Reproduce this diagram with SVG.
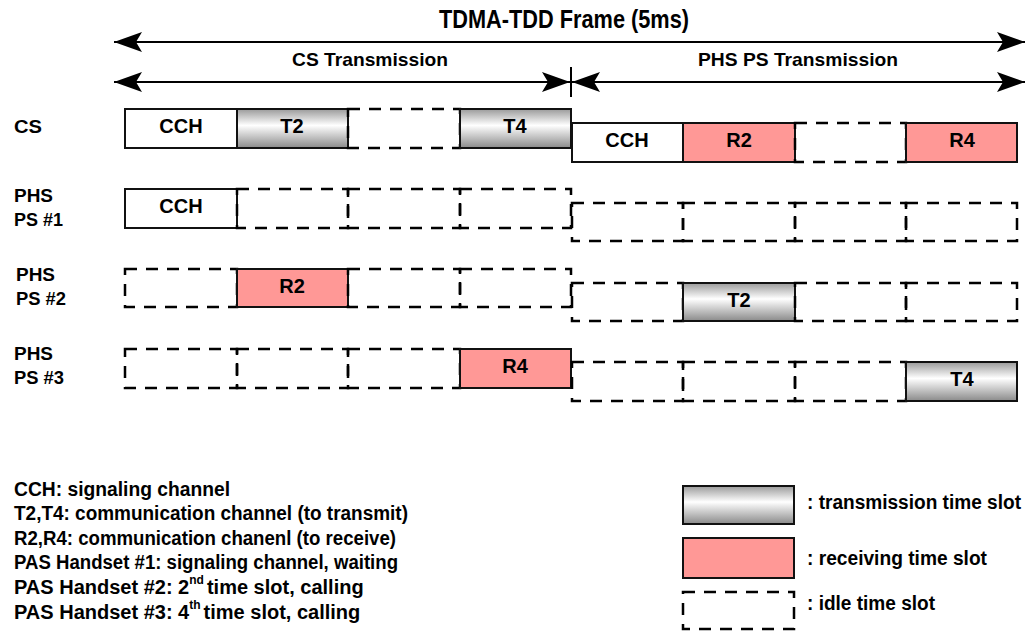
<svg xmlns="http://www.w3.org/2000/svg" width="1031" height="638" viewBox="0 0 1031 638">
<defs>
<linearGradient id="gray" x1="0" y1="0" x2="0" y2="1">
<stop offset="0" stop-color="#9a9a9a"/>
<stop offset="0.42" stop-color="#ffffff"/>
<stop offset="1" stop-color="#8a8a8a"/>
</linearGradient>
<marker id="ah" viewBox="0 0 28 20" refX="28" refY="10" markerWidth="28" markerHeight="20" markerUnits="userSpaceOnUse" orient="auto-start-reverse">
<path d="M0,0 L28,10 L0,20 L6,10 Z" fill="#000"/>
</marker>
<style>
text{font-family:"Liberation Sans",Arial,sans-serif;font-weight:bold;fill:#000}
.lbl{font-size:19px}
.bx{font-size:20px;text-anchor:middle}
.leg{font-size:20px}
.sup{font-size:12px}
.tx{fill:url(#gray);stroke:#111;stroke-width:2}
.rx{fill:#ff9896;stroke:#111;stroke-width:2}
.wh{fill:#fff;stroke:#111;stroke-width:2}
.id{fill:none;stroke:#000;stroke-width:2.5;stroke-dasharray:12 9}
.ln{stroke:#000;stroke-width:2;fill:none}
</style>
</defs>
<rect width="1031" height="638" fill="#fff"/>

<g id="title">
<text x="564" y="28" font-size="26" text-anchor="middle" textLength="250" lengthAdjust="spacingAndGlyphs">TDMA-TDD Frame (5ms)</text>
<text x="370" y="66" font-size="19" text-anchor="middle" textLength="156" lengthAdjust="spacingAndGlyphs">CS Transmission</text>
<text x="798" y="66" font-size="19" text-anchor="middle" textLength="200" lengthAdjust="spacingAndGlyphs">PHS PS Transmission</text>
</g>

<g id="connectors">
<line class="ln" x1="114" y1="42" x2="1025" y2="42" marker-start="url(#ah)" marker-end="url(#ah)"/>
<line class="ln" x1="114" y1="82" x2="570" y2="82" marker-start="url(#ah)" marker-end="url(#ah)"/>
<line class="ln" x1="572" y1="82" x2="1025" y2="82" marker-start="url(#ah)" marker-end="url(#ah)"/>
<line class="ln" x1="571" y1="67" x2="571" y2="97" stroke-width="1.5"/>
</g>

<g id="row-labels">
<text class="lbl" x="14" y="133" textLength="28" lengthAdjust="spacingAndGlyphs">CS</text>
<text class="lbl" x="14" y="202" textLength="39" lengthAdjust="spacingAndGlyphs">PHS</text>
<text class="lbl" x="14" y="226" textLength="49" lengthAdjust="spacingAndGlyphs">PS #1</text>
<text class="lbl" x="16" y="281" textLength="39" lengthAdjust="spacingAndGlyphs">PHS</text>
<text class="lbl" x="16" y="305" textLength="50" lengthAdjust="spacingAndGlyphs">PS #2</text>
<text class="lbl" x="14" y="360" textLength="39" lengthAdjust="spacingAndGlyphs">PHS</text>
<text class="lbl" x="14" y="384" textLength="50" lengthAdjust="spacingAndGlyphs">PS #3</text>
</g>

<g id="row-cs">
<rect class="wh" x="125" y="109" width="112" height="39"/>
<text class="bx" x="181" y="133">CCH</text>
<rect class="tx" x="237" y="109" width="111" height="39"/>
<text class="bx" x="292" y="133">T2</text>
<rect class="id" x="348" y="109" width="112" height="39"/>
<rect class="tx" x="460" y="109" width="111" height="39"/>
<text class="bx" x="515" y="133">T4</text>
<rect class="wh" x="572" y="123" width="111" height="39"/>
<text class="bx" x="627" y="147">CCH</text>
<rect class="rx" x="683" y="123" width="112" height="39"/>
<text class="bx" x="739" y="147">R2</text>
<rect class="id" x="795" y="123" width="111" height="39"/>
<rect class="rx" x="906" y="123" width="111" height="39"/>
<text class="bx" x="962" y="147">R4</text>
</g>

<g id="row-ps1">
<rect class="wh" x="125" y="189" width="112" height="39"/>
<text class="bx" x="181" y="213">CCH</text>
<rect class="id" x="237" y="189" width="111" height="39"/>
<rect class="id" x="348" y="189" width="112" height="39"/>
<rect class="id" x="460" y="189" width="111" height="39"/>
<rect class="id" x="572" y="203" width="111" height="38"/>
<rect class="id" x="683" y="203" width="112" height="38"/>
<rect class="id" x="795" y="203" width="111" height="38"/>
<rect class="id" x="906" y="203" width="111" height="38"/>
</g>

<g id="row-ps2">
<rect class="id" x="125" y="269" width="112" height="38"/>
<rect class="rx" x="237" y="269" width="111" height="38"/>
<text class="bx" x="292" y="293">R2</text>
<rect class="id" x="348" y="269" width="112" height="38"/>
<rect class="id" x="460" y="269" width="111" height="38"/>
<rect class="id" x="572" y="283" width="111" height="38"/>
<rect class="tx" x="683" y="283" width="112" height="38"/>
<text class="bx" x="739" y="307">T2</text>
<rect class="id" x="795" y="283" width="111" height="38"/>
<rect class="id" x="906" y="283" width="111" height="38"/>
</g>

<g id="row-ps3">
<rect class="id" x="125" y="349" width="112" height="39"/>
<rect class="id" x="237" y="349" width="111" height="39"/>
<rect class="id" x="348" y="349" width="112" height="39"/>
<rect class="rx" x="460" y="349" width="111" height="39"/>
<text class="bx" x="515" y="373">R4</text>
<rect class="id" x="572" y="362" width="111" height="39"/>
<rect class="id" x="683" y="362" width="112" height="39"/>
<rect class="id" x="795" y="362" width="111" height="39"/>
<rect class="tx" x="906" y="362" width="111" height="39"/>
<text class="bx" x="962" y="386">T4</text>
</g>

<g id="legend-text">
<text class="leg" x="14" y="496" textLength="216" lengthAdjust="spacingAndGlyphs">CCH: signaling channel</text>
<text class="leg" x="14" y="520" textLength="394" lengthAdjust="spacingAndGlyphs">T2,T4: communication channel (to transmit)</text>
<text class="leg" x="14" y="545" textLength="382" lengthAdjust="spacingAndGlyphs">R2,R4: communication chanenl (to receive)</text>
<text class="leg" x="14" y="569" textLength="384" lengthAdjust="spacingAndGlyphs">PAS Handset #1: signaling channel, waiting</text>
<text class="leg" x="14" y="594">PAS Handset #2: 2<tspan class="sup" dy="-10">nd</tspan><tspan dy="10" dx="3">time slot, calling</tspan></text>
<text class="leg" x="14" y="619">PAS Handset #3: 4<tspan class="sup" dy="-10">th</tspan><tspan dy="10" dx="3">time slot, calling</tspan></text>
</g>

<g id="legend-key">
<rect class="tx" x="683" y="486" width="111" height="38"/>
<text class="leg" x="807" y="509" textLength="214" lengthAdjust="spacingAndGlyphs">: transmission time slot</text>
<rect class="rx" x="683" y="538" width="111" height="40"/>
<text class="leg" x="807" y="565" textLength="180" lengthAdjust="spacingAndGlyphs">: receiving time slot</text>
<rect class="id" x="683" y="592" width="111" height="37"/>
<text class="leg" x="807" y="610" textLength="128" lengthAdjust="spacingAndGlyphs">: idle time slot</text>
</g>
</svg>
